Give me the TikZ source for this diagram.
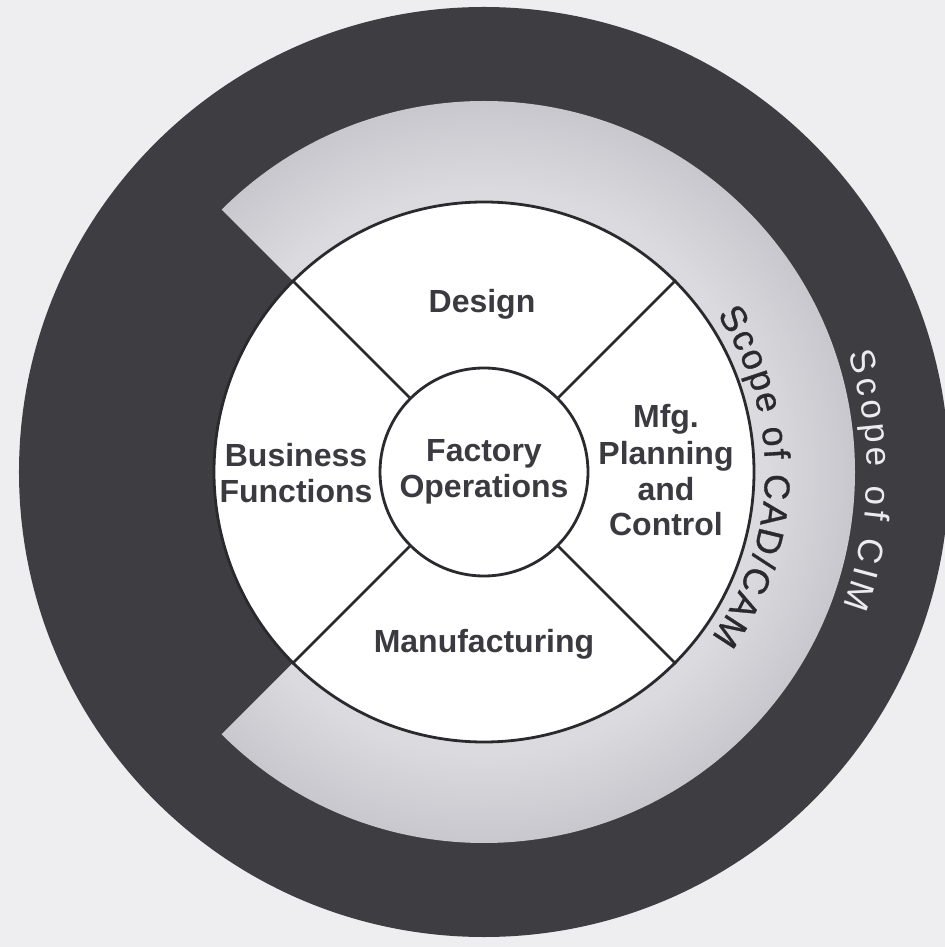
\documentclass[tikz,border=0pt]{standalone}
\usepackage{fontspec}
\setmainfont{Liberation Sans}
\newfontfamily\camfont{Liberation Sans}[FakeBold=0.8]

\definecolor{paper}{RGB}{238,238,241}
\definecolor{cimdark}{RGB}{62,62,66}
\definecolor{camgray}{RGB}{199,199,205}
\definecolor{camlight}{RGB}{218,218,223}
\definecolor{ink}{RGB}{42,42,46}
\definecolor{labelink}{RGB}{58,58,64}
\definecolor{cimtext}{RGB}{236,236,238}

% light band of the CAD/CAM ring, brighter towards the inside (radii in bp)
\pgfdeclareradialshading{camshade}{\pgfpoint{0bp}{0bp}}{%
  color(0bp)=(camlight); color(140bp)=(camlight); color(186bp)=(camgray)}

% Letters set one by one, clockwise along a circle, tops facing outwards.
% #1 style, #2 name prefix, #3 baseline radius, #4 advance radius,
% #5 centre angle, #6 em size, #7 extra tracking, #8 list glyph/width(em)
\newcommand\ringtext[8]{%
  \gdef\ringlen{0}%
  \foreach \g/\w in {#8}{%
    \pgfmathsetmacro\ringtmp{\ringlen+\w*#6+#7}\xdef\ringlen{\ringtmp}}%
  \pgfmathsetmacro\ringtmp{#5+deg(0.5*(\ringlen-#7)/#4)}\xdef\ringang{\ringtmp}%
  \foreach \g/\w [count=\k] in {#8}{%
    \pgfmathsetmacro\ringmid{\ringang-deg(0.5*\w*#6/#4)}%
    \node[#1, rotate=\ringmid-90, anchor=base] (#2-\k) at (\ringmid:#3) {\g};%
    \pgfmathsetmacro\ringtmp{\ringang-deg((\w*#6+#7)/#4)}\xdef\ringang{\ringtmp}%
  }%
}

\begin{document}
\begin{tikzpicture}[x=0.5pt, y=0.5pt,
  outline/.style={draw=ink, line width=1.4pt},
  sector/.style={font=\bfseries\fontsize{16}{18}\selectfont, text=labelink,
    align=center, inner sep=0pt},
  camletter/.style={font=\camfont\fontsize{18}{18}\selectfont, text=ink, inner sep=0pt},
  cimletter/.style={font=\fontsize{17.5}{18}\selectfont, text=cimtext, inner sep=0pt}]

\useasboundingbox (-484,-475) rectangle (461,472);
\fill[paper] (-484,-475) rectangle (461,472);

% CIM: the full dark disc
\fill[cimdark] (0,0) circle (465);

% CAD/CAM: light band, open towards Business Functions
\begin{scope}
  \clip (0,0) -- (135:371) arc[start angle=135, end angle=-135, radius=371] -- cycle;
  \node[inner sep=0pt, outer sep=0pt] (camband) at (0,0) {\pgfuseshading{camshade}};
\end{scope}

% functional areas
\node[circle, outline, fill=white, minimum size=270pt, inner sep=0pt] (disc) at (0,0) {};
\node[circle, outline, fill=white, minimum size=104pt, inner sep=0pt,
      font=\bfseries\fontsize{16}{18}\selectfont, text=labelink, align=center]
      (core) at (0,0) {Factory\\Operations};

\foreach \a in {45,135,225,315}
  \draw[outline] (core.\a) -- (disc.\a);

% base anchor of a multi-line node sits on its last line
\node[sector, anchor=base] (design) at (-2,159) {Design};
\node[sector, anchor=base] (manuf) at (0,-180) {Manufacturing};
\node[sector, anchor=base] (business) at (-188,-31) {Business\\Functions};
\node[sector, anchor=base] (mpc) at (182,-64) {Mfg.\\Planning\\and\\Control};

% ring captions
\ringtext{camletter}{cad}{281}{293}{-1}{36}{2.6}{%
  S/.667,c/.5,o/.556,p/.556,e/.556,{}/.278,o/.556,f/.278,{}/.278,%
  C/.722,A/.667,D/.722,{/}/.278,C/.722,A/.667,M/.833}
\ringtext{cimletter}{cim}{383}{395}{-1.3}{35}{4.8}{%
  S/.667,c/.5,o/.556,p/.556,e/.556,{}/.278,o/.556,f/.278,{}/.278,%
  C/.722,I/.278,M/.833}

\end{tikzpicture}
\end{document}
